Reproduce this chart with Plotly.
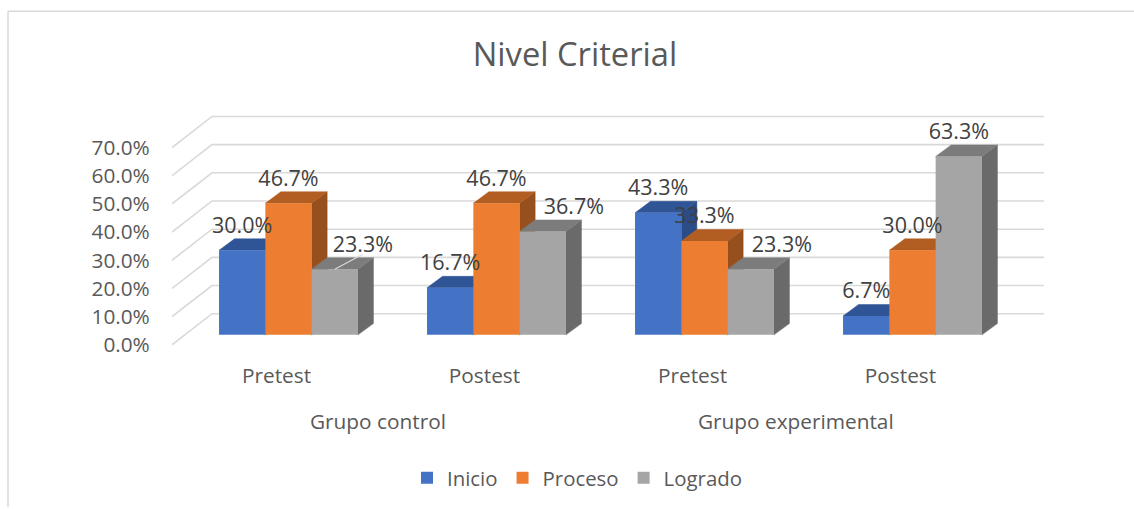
import plotly.graph_objects as go

# ---------- data ----------
subcategories = ["Pretest", "Postest", "Pretest", "Postest"]
groups = ["Grupo control", "Grupo experimental"]
y_ticks = [0.0, 0.1, 0.2, 0.3, 0.4, 0.5, 0.6, 0.7]
inicio = [0.300, 0.167, 0.433, 0.067]
proceso = [0.467, 0.467, 0.333, 0.300]
logrado = [0.233, 0.367, 0.233, 0.633]

# ---------- geometry (page pixels) ----------
W, H = 1134, 509
L, R, T, B = 172, 1044, 100, 350
X0, STEP = 288.5, 208.0          # pixel of category 0, pixels per category
BAR_PX = 46.3
PX_PER_UNIT = 283.0              # pixels per 100 %
FLOOR_TICK, FLOOR_BAR = 345.8, 335.8 # pixel of 0 % on tick plane and bar plane
DX, DY = 15.5, 11.5              # bar depth
WALL_X, WALL_TOP = 212, 314.6    # back wall corner
FONT = "Open Sans"
TXT = 20.8

def xd(px):
    return (px - X0) / STEP

def ya(v, up=0.0):
    """Value on the bar plane (+ pixels up), expressed on the tick axis y."""
    return v + (FLOOR_TICK - FLOOR_BAR + up) / PX_PER_UNIT

w = BAR_PX / STEP
dxd = DX / STEP
series = [
    ("Inicio", inicio, "#4472C4", "#2F5597", "#2A4C87", -1.5),
    ("Proceso", proceso, "#ED7D31", "#B25D22", "#96501D", -0.5),
    ("Logrado", logrado, "#A5A5A5", "#7C7C7C", "#6A6A6A", 0.5),
]

fig = go.Figure()

# back wall and left wall gridlines
gx, gy = [], []
for t in y_ticks:
    gx += [xd(L), xd(WALL_X), xd(R), None]
    gy += [t, t + (FLOOR_TICK - WALL_TOP) / PX_PER_UNIT, t + (FLOOR_TICK - WALL_TOP) / PX_PER_UNIT, None]
fig.add_trace(go.Scatter(x=gx, y=gy, mode="lines", line=dict(color="#D9D9D9", width=1.6),
                         showlegend=False, hoverinfo="skip", xaxis="x", yaxis="y"))

# top and side faces, painted series by series
for name, vals, c, ctop, cside, off in series:
    tx, ty, sx, sy = [], [], [], []
    for i, v in enumerate(vals):
        a, b = i + off * w, i + (off + 1) * w
        tx += [a, b, b + dxd, a + dxd, a, None]
        ty += [ya(v), ya(v), ya(v, DY), ya(v, DY), ya(v), None]
        sx += [b, b + dxd, b + dxd, b, b, None]
        sy += [ya(0), ya(0, DY), ya(v, DY), ya(v), ya(0), None]
    for xs, ys, col in ((sx, sy, cside), (tx, ty, ctop)):
        fig.add_trace(go.Scatter(x=xs, y=ys, mode="lines", fill="toself", fillcolor=col,
                                 line=dict(color=col, width=0.5), showlegend=False,
                                 hoverinfo="skip", xaxis="x", yaxis="y"))

# front faces
for name, vals, c, ctop, cside, off in series:
    fig.add_trace(go.Bar(name=name, x=list(range(4)), y=vals, width=w, offset=off * w,
                         marker=dict(color=c, line=dict(width=0)), xaxis="x", yaxis="y2"))

# data labels: Logrado labels pushed to the right of their bars, as in the reference
LABEL_UP = 23
for (name, vals, c, ctop, cside, off), shifts in zip(series, ([0, 0, 0, 0], [0, 0, 0, 0], [28, 31, 31, 0])):
    fig.add_trace(go.Scatter(
        x=[i + (off + 0.5) * w + s / STEP for i, s in enumerate(shifts)],
        y=[v + LABEL_UP / PX_PER_UNIT for v in vals],
        mode="text", text=[f"{v:.1%}" for v in vals], textposition="middle center",
        textfont=dict(family=FONT, size=21.5, color="#404040"),
        showlegend=False, hoverinfo="skip", cliponaxis=False, xaxis="x", yaxis="y2"))

# leader line of the first Logrado label
fig.add_trace(go.Scatter(
    x=[0 + 1.0 * w, 0 + 1.0 * w + 28 / STEP],
    y=[logrado[0], logrado[0] + 15 / PX_PER_UNIT],
    mode="lines", line=dict(color="#D9D9D9", width=1.2),
    showlegend=False, hoverinfo="skip", xaxis="x", yaxis="y2"))

span = (B - T) / PX_PER_UNIT
fig.update_layout(
    width=W, height=H, autosize=False,
    margin=dict(l=L, r=W - R, t=T, b=H - B),
    paper_bgcolor="white", plot_bgcolor="white",
    barmode="overlay",
    font=dict(family=FONT, color="#595959", size=TXT),
    title=dict(text="Nivel Criterial", x=575 / W, y=1 - 55 / H, xanchor="center", yanchor="middle",
               xref="container", yref="container",
               font=dict(family=FONT, size=32.7, color="#595959")),
    xaxis=dict(range=[xd(L), xd(R)], tickvals=[i - 12 / STEP for i in range(4)], ticktext=subcategories,
               showgrid=False, zeroline=False, showline=False, ticks="outside", ticklen=8,
               tickcolor="rgba(0,0,0,0)", tickfont=dict(family=FONT, size=TXT, color="#595959")),
    yaxis=dict(range=[-(B - FLOOR_TICK) / PX_PER_UNIT, span - (B - FLOOR_TICK) / PX_PER_UNIT],
               tickvals=y_ticks, tickformat=".1%", showgrid=False, zeroline=False, showline=False,
               ticks="outside", ticklen=17, tickcolor="rgba(0,0,0,0)",
               tickfont=dict(family=FONT, size=TXT, color="#595959")),
    yaxis2=dict(range=[-(B - FLOOR_BAR) / PX_PER_UNIT, span - (B - FLOOR_BAR) / PX_PER_UNIT],
                overlaying="y", visible=False),
    legend=dict(orientation="h", x=(577 - L) / (R - L), xanchor="center",
                y=(B - 478) / (B - T), yanchor="middle", font=dict(family=FONT, size=20.4, color="#595959"),
                traceorder="normal", bgcolor="rgba(0,0,0,0)"),
    showlegend=True,
    annotations=[
        dict(text=groups[0], x=xd(378), y=(B - 422) / (B - T), xref="x", yref="paper", showarrow=False,
             xanchor="center", yanchor="middle", font=dict(family=FONT, size=TXT, color="#595959")),
        dict(text=groups[1], x=xd(796), y=(B - 422) / (B - T), xref="x", yref="paper", showarrow=False,
             xanchor="center", yanchor="middle", font=dict(family=FONT, size=TXT, color="#595959")),
    ],
    shapes=[
        dict(type="line", xref="paper", yref="paper", layer="below", line=dict(color="#D9D9D9", width=1.5),
             x0=(8 - L) / (R - L), x1=(W - L) / (R - L), y0=(B - 11) / (B - T), y1=(B - 11) / (B - T)),
        dict(type="line", xref="paper", yref="paper", layer="below", line=dict(color="#D9D9D9", width=1.5),
             x0=(8 - L) / (R - L), x1=(8 - L) / (R - L), y0=(B - 11) / (B - T), y1=(B - H) / (B - T)),
    ],
)

fig.write_html("out.html", config={"displayModeBar": False},
               post_script="document.body.style.margin='0';document.body.style.overflow='hidden';")
